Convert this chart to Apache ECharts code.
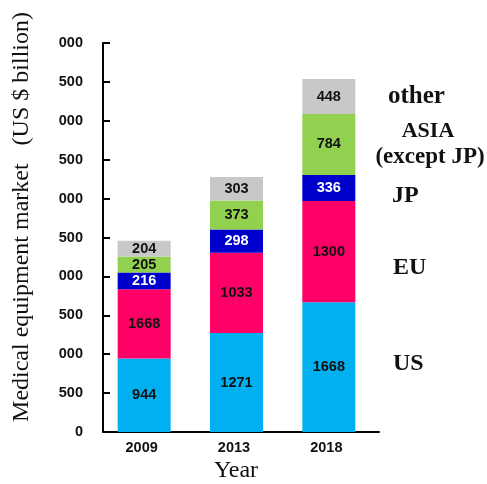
<!DOCTYPE html>
<html>
<head>
<meta charset="utf-8">
<script src="https://cdn.jsdelivr.net/npm/echarts@6/dist/echarts.min.js"></script>
<style>html,body{margin:0;padding:0;background:#fff;}#c{width:487px;height:484px;}</style>
</head>
<body>
<div id="c"></div>
<script>
// ---- data ----
var YEARS = ['2009', '2013', '2018'];
var US = [944, 1271, 1668];
var EU = [890, 1033, 1300];          // bar height as drawn
var EU_LABELS = ['1668', '1033', '1300']; // text printed on the bars
var JP = [216, 298, 336];
var ASIA = [205, 373, 784];
var OTHER = [204, 303, 448];
var Y_TICK_LABELS = ['0', '500', '000', '500', '000', '500', '000', '500', '000', '500', '000'];

var chart = echarts.init(document.getElementById('c'), null, {renderer: 'canvas'});
var numFont = {fontFamily: 'Liberation Sans', fontWeight: 'bold', fontSize: 14.5};

function seg(name, data, color, textColor, labels) {
  return {
    name: name, type: 'bar', stack: 'total', data: data,
    xAxisIndex: 0, yAxisIndex: 0,
    barWidth: 53,
    itemStyle: {color: color},
    label: Object.assign({
      show: true, position: 'inside', color: textColor,
      formatter: function (p) { return labels ? labels[p.dataIndex] : String(p.value); }
    }, numFont)
  };
}

var option = {
  animation: false,
  grid: [
    {left: 98, right: 112, top: 43, bottom: 52},
    {left: 103, right: 108, top: 43, bottom: 52}
  ],
  xAxis: [
    {
      gridIndex: 0, type: 'category', data: YEARS,
      axisLine: {show: false}, axisTick: {show: false},
      axisLabel: Object.assign({color: '#111', margin: 8, padding: [0, 5, 0, 0]}, numFont)
    },
    {
      gridIndex: 1, type: 'value', min: 0, max: 1,
      axisLine: {show: true, lineStyle: {color: '#000', width: 2}},
      axisTick: {show: false}, axisLabel: {show: false}, splitLine: {show: false}
    }
  ],
  yAxis: [
    {
      gridIndex: 0, type: 'value', min: 0, max: 5000, interval: 500,
      show: false, splitLine: {show: false}
    },
    {
      gridIndex: 1, type: 'value', min: 0, max: 5000, interval: 500,
      axisLine: {show: true, lineStyle: {color: '#000', width: 2}},
      axisTick: {show: true, inside: true, length: 7, lineStyle: {color: '#000', width: 2}},
      splitLine: {show: false},
      axisLabel: Object.assign({
        color: '#111', margin: 20,
        formatter: function (v) { return Y_TICK_LABELS[Math.round(v / 500)]; }
      }, numFont)
    }
  ],
  series: [
    seg('US', US, '#00B0F0', '#111'),
    seg('EU', EU, '#FF0066', '#111', EU_LABELS),
    seg('JP', JP, '#0000CC', '#fff'),
    seg('ASIA', ASIA, '#92D050', '#111'),
    seg('other', OTHER, '#C8C8C8', '#111')
  ],
  graphic: [
    {type: 'text', x: 22, y: 217, rotation: Math.PI / 2,
     style: {text: 'Medical equipment market   (US $ billion)', fontFamily: 'Liberation Serif', fontSize: 24,
             fill: '#111', align: 'center', verticalAlign: 'middle'}},
    {type: 'text', x: 236, y: 471,
     style: {text: 'Year', fontFamily: 'Liberation Serif', fontSize: 24, fill: '#111', align: 'center', verticalAlign: 'middle'}},
    {type: 'text', x: 388, y: 97,
     style: {text: 'other', fontFamily: 'Liberation Serif', fontWeight: 'bold', fontSize: 25, fill: '#111', align: 'left', verticalAlign: 'middle'}},
    {type: 'text', x: 428, y: 131,
     style: {text: 'ASIA', fontFamily: 'Liberation Serif', fontWeight: 'bold', fontSize: 22, fill: '#111', align: 'center', verticalAlign: 'middle'}},
    {type: 'text', x: 430, y: 157,
     style: {text: '(except JP)', fontFamily: 'Liberation Serif', fontWeight: 'bold', fontSize: 23, fill: '#111', align: 'center', verticalAlign: 'middle'}},
    {type: 'text', x: 392, y: 196,
     style: {text: 'JP', fontFamily: 'Liberation Serif', fontWeight: 'bold', fontSize: 24, fill: '#111', align: 'left', verticalAlign: 'middle'}},
    {type: 'text', x: 393, y: 268,
     style: {text: 'EU', fontFamily: 'Liberation Serif', fontWeight: 'bold', fontSize: 24, fill: '#111', align: 'left', verticalAlign: 'middle'}},
    {type: 'text', x: 393, y: 364,
     style: {text: 'US', fontFamily: 'Liberation Serif', fontWeight: 'bold', fontSize: 24, fill: '#111', align: 'left', verticalAlign: 'middle'}}
  ]
};
chart.setOption(option);
</script>
</body>
</html>
